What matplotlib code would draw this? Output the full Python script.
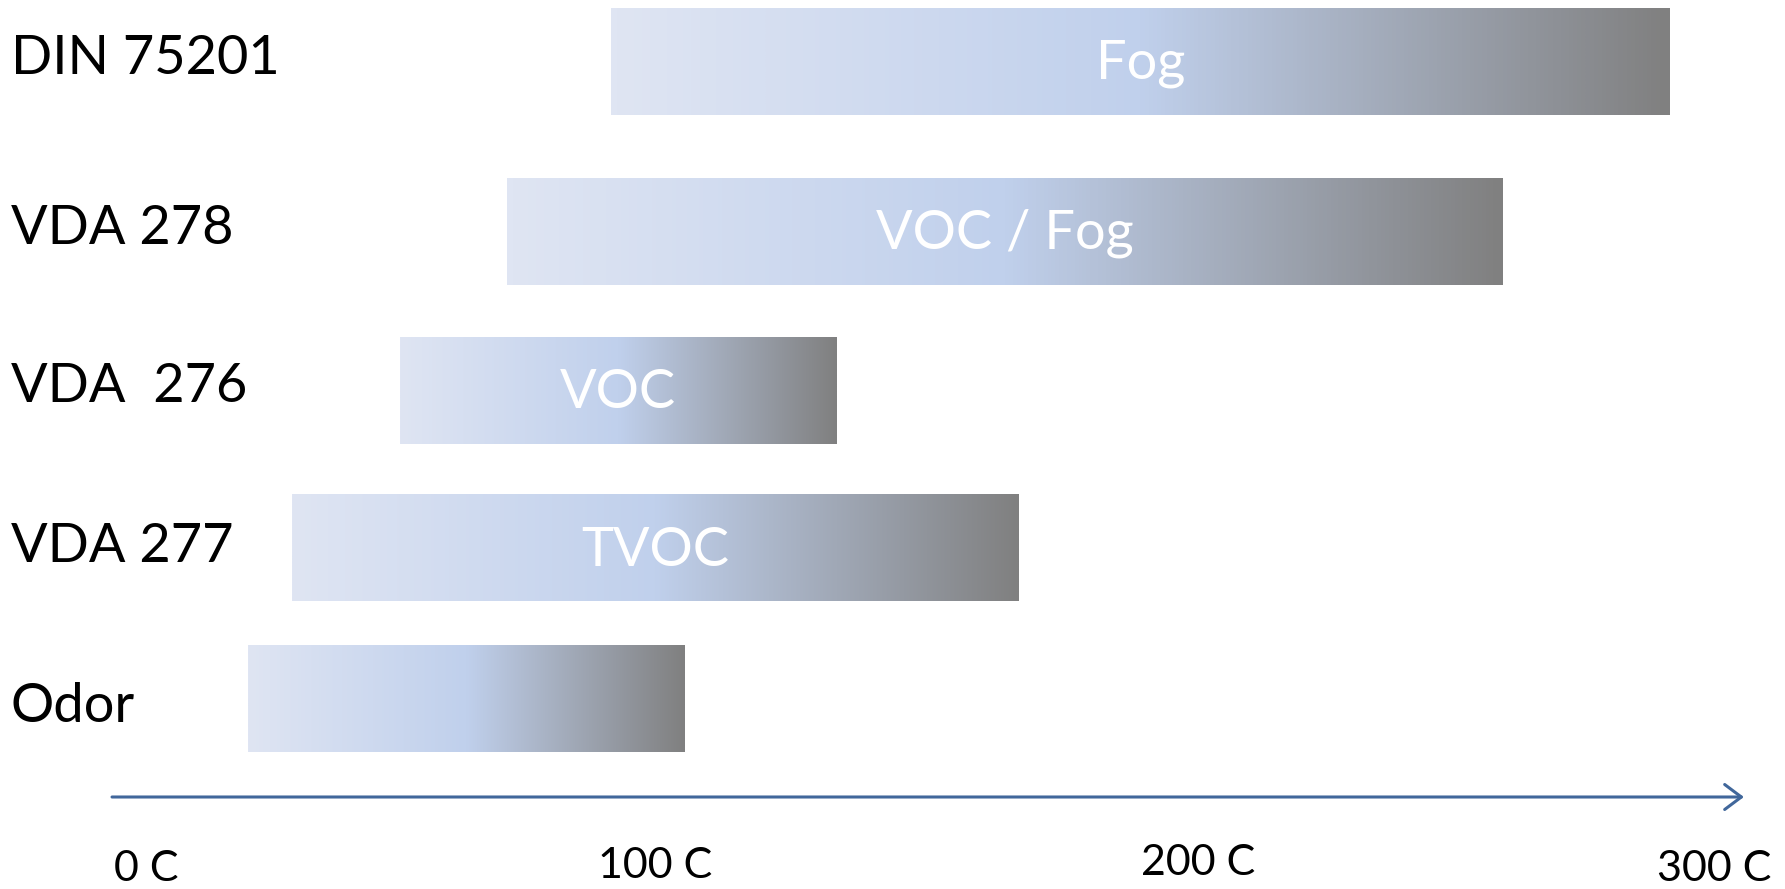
import numpy as np
import matplotlib.pyplot as plt
from matplotlib.colors import LinearSegmentedColormap
from matplotlib.transforms import blended_transform_factory

plt.rcParams['font.family'] = ['Lato', 'DejaVu Sans']

# test methods and their temperature ranges (deg C)
methods = ['DIN 75201', 'VDA 278', 'VDA  276', 'VDA 277', 'Odor']
t_start = [89, 69, 48.5, 28, 19.5]
t_end = [291.5, 259.5, 132, 167, 103]
bar_text = ['Fog', 'VOC / Fog', 'VOC', 'TVOC', '']

ticks = [0, 100, 200, 300]
tick_labels = ['0 C', '100 C', '200 C', '300 C']

# layout (figure pixels, top down)
row_y = [61.5, 231.5, 390.5, 548, 698.5]
label_y = [59, 229, 386, 546, 706]
tick_y = [869, 866, 863, 869]
tick_dx = [0, -14, 7, 0]
bar_h = 107
axis_y = 797
px_per_deg = 5.227

# light blue -> blue -> grey fill
grad_cmap = LinearSegmentedColormap.from_list(
    'fill', [(0.0, '#DFE5F3'), (0.5, '#C0D0EC'), (1.0, '#808080')])
grad = np.linspace(0, 1, 256).reshape(1, -1)

fig = plt.figure(figsize=(17.85, 8.89), dpi=100)
ax = fig.add_axes([0, 0, 1, 1])

for i in range(len(methods)):
    y0 = row_y[i] - bar_h / 2
    y1 = row_y[i] + bar_h / 2
    ax.imshow(grad, extent=[t_start[i], t_end[i], y1, y0], aspect='auto',
              cmap=grad_cmap, interpolation='bilinear')
    if bar_text[i]:
        ax.text((t_start[i] + t_end[i]) / 2, row_y[i] + 2, bar_text[i],
                color='white', fontsize=39, ha='center', va='center')

# row labels on the left edge
trans = blended_transform_factory(ax.transAxes, ax.transData)
for name, y in zip(methods, label_y):
    ax.text(0.006, y, name, transform=trans, fontsize=39,
            ha='left', va='center', color='black')

# temperature axis arrow
ax.annotate('', xy=(305.7, axis_y), xytext=(-6.5, axis_y),
            arrowprops=dict(arrowstyle='->,head_length=0.6,head_width=0.45',
                            color='#41679B', lw=2.2, mutation_scale=20,
                            shrinkA=0, shrinkB=0))
for t, lab, y, dx in zip(ticks, tick_labels, tick_y, tick_dx):
    ax.text(t + dx / px_per_deg, y, lab, fontsize=31,
            ha='center', va='center', color='black')

ax.set_xlim(-146 / px_per_deg, (1785 - 146) / px_per_deg)
ax.set_ylim(889, 0)
ax.axis('off')

fig.savefig('out.png', dpi=100, facecolor='white')
